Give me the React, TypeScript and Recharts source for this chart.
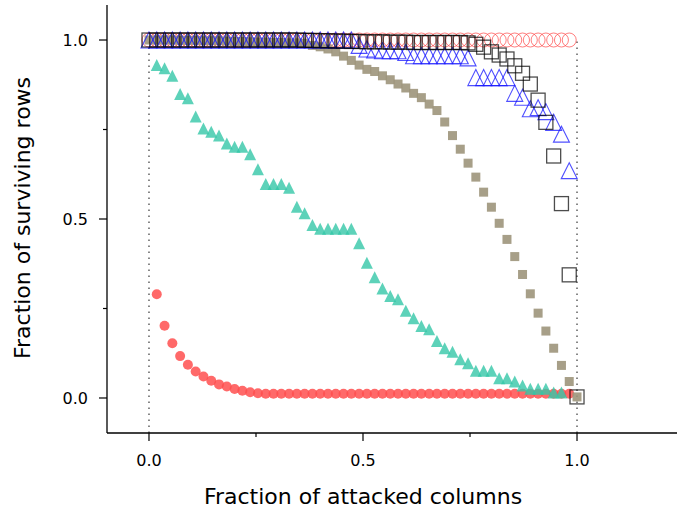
import React from "react";
import { ScatterChart, Scatter, XAxis, YAxis, ReferenceLine } from "recharts";

const FONT = "'DejaVu Sans', sans-serif";

// x grid: fraction of attacked columns, 55 columns in total
const COLUMN_COUNT = 55;
const attacked = Array.from({ length: COLUMN_COUNT + 1 }, (_, k) => k / COLUMN_COUNT);

const X_MIN = -0.0981;
const X_MAX = 1.2336;
const Y_MIN = -0.0978;
const Y_MAX = 1.0978;

const X_TICKS = [0, 0.25, 0.5, 0.75, 1];
const Y_TICKS = [0, 0.25, 0.5, 0.75, 1];
const MAJOR_TICKS = [0, 0.5, 1];

// series values, each starts at a column index
const redOpenStart = 0;
const redOpen = [
  1, 1, 1, 1, 1, 1, 1, 1, 1, 1, 1,
  1, 1, 1, 1, 1, 1, 1, 1, 1, 1, 1,
  1, 1, 1, 1, 1, 1, 1, 1, 1, 1, 1,
  1, 1, 1, 1, 1, 1, 1, 1, 1, 1, 1,
  1, 1, 1, 1, 1, 1, 1, 1, 1, 1, 1,
];

const redDotStart = 1;
const redDot = [
  0.29, 0.202, 0.153, 0.117, 0.093, 0.074, 0.06, 0.048, 0.038, 0.032,
  0.025, 0.02, 0.016, 0.013, 0.012, 0.012, 0.012, 0.012, 0.012, 0.012,
  0.012, 0.012, 0.012, 0.012, 0.012, 0.012, 0.012, 0.012, 0.012, 0.012,
  0.012, 0.012, 0.012, 0.012, 0.012, 0.012, 0.012, 0.012, 0.012, 0.012,
  0.012, 0.012, 0.012, 0.012, 0.012, 0.012, 0.012, 0.012, 0.012, 0.012,
  0.012, 0.012, 0.012, 0.012,
];

const tealStart = 1;
const teal = [
  0.93, 0.921, 0.9, 0.849, 0.837, 0.786, 0.753, 0.744, 0.733, 0.711,
  0.702, 0.702, 0.681, 0.639, 0.598, 0.598, 0.598, 0.587, 0.534, 0.516,
  0.483, 0.473, 0.473, 0.473, 0.473, 0.473, 0.432, 0.378, 0.337, 0.306,
  0.285, 0.276, 0.244, 0.223, 0.201, 0.192, 0.159, 0.139, 0.129, 0.108,
  0.097, 0.076, 0.076, 0.076, 0.055, 0.055, 0.046, 0.035, 0.026, 0.026,
  0.026, 0.015, 0.015,
];

const grayStart = 0;
const gray = [
  1, 1, 1, 1, 0.999, 0.999, 0.999, 0.998, 0.998, 0.998,
  0.997, 0.996, 0.996, 0.995, 0.994, 0.994, 0.993, 0.993, 0.992, 0.992,
  0.991, 0.985, 0.981, 0.975, 0.967, 0.955, 0.943, 0.93, 0.918, 0.912,
  0.9, 0.889, 0.877, 0.866, 0.851, 0.839, 0.821, 0.803, 0.771, 0.733,
  0.695, 0.656, 0.617, 0.575, 0.533, 0.488, 0.443, 0.395, 0.345, 0.291,
  0.237, 0.187, 0.139, 0.091, 0.046, 0.003,
];

const blueStart = 0;
const blue = [
  1, 1, 1, 1, 1, 1, 1, 1, 1, 1,
  1, 1, 1, 1, 1, 1, 1, 1, 1, 1,
  1, 1, 1, 1, 1, 1, 1, 0.985, 0.975, 0.972,
  0.97, 0.97, 0.97, 0.965, 0.956, 0.956, 0.956, 0.956, 0.956, 0.956,
  0.956, 0.95, 0.895, 0.895, 0.895, 0.895, 0.895, 0.851, 0.84, 0.808,
  0.811, 0.8, 0.77, 0.737, 0.635,
];

const blackStart = 0;
const black = [
  1, 1, 1, 1, 1, 1, 1, 1, 1, 1,
  1, 1, 1, 1, 1, 1, 1, 1, 1, 1,
  0.999, 0.999, 0.998, 0.998, 0.997, 0.997, 0.996, 0.996, 0.995, 0.995,
  0.995, 0.994, 0.994, 0.994, 0.993, 0.993, 0.993, 0.993, 0.993, 0.993,
  0.993, 0.992, 0.988, 0.98, 0.967, 0.958, 0.947, 0.928, 0.907, 0.877,
  0.832, 0.77, 0.676, 0.543, 0.344, 0.003,
];

const toPoints = (start: number, values: number[]) =>
  values.map((y, i) => ({ x: attacked[start + i], y }));

// marker shapes
const OpenCircle = ({ cx, cy }: any) => (
  <circle cx={cx} cy={cy} r={7} fill="none" stroke="#ff2a2a" strokeOpacity={0.6} strokeWidth={1} />
);
const Dot = ({ cx, cy }: any) => (
  <circle cx={cx} cy={cy} r={5} fill="#ff4f4f" fillOpacity={0.85} />
);
const triPath = (cx: number, cy: number, h: number) =>
  `M${cx},${cy - h / 2} L${cx - h / 2},${cy + h / 2} L${cx + h / 2},${cy + h / 2} Z`;
const FilledTriangle = ({ cx, cy }: any) => (
  <path d={triPath(cx, cy, 12)} fill="#34c7a8" fillOpacity={0.8} />
);
const OpenTriangle = ({ cx, cy }: any) => (
  <path d={triPath(cx, cy, 16)} fill="none" stroke="#1414ff" strokeOpacity={0.75} strokeWidth={1.1} />
);
const FilledSquare = ({ cx, cy }: any) => (
  <rect x={cx - 4.5} y={cy - 4.5} width={9} height={9} fill="#9d957b" fillOpacity={0.9} />
);
const OpenSquare = ({ cx, cy }: any) => (
  <rect x={cx - 7} y={cy - 7} width={14} height={14} fill="none" stroke="#000" strokeOpacity={0.7} strokeWidth={1.3} />
);

const XTick = ({ x, y, payload }: any) => {
  const major = MAJOR_TICKS.includes(payload.value);
  return (
    <g>
      <line x1={x} x2={x} y1={y} y2={y + (major ? 8 : 4)} stroke="#000" strokeWidth={1.2} />
      {major && (
        <text x={x} y={y + 33} textAnchor="middle" fontSize={16} fontFamily={FONT} fill="#000">
          {payload.value.toFixed(1)}
        </text>
      )}
    </g>
  );
};

const YTick = ({ x, y, payload }: any) => {
  const major = MAJOR_TICKS.includes(payload.value);
  return (
    <g>
      <line x1={x} x2={x - (major ? 8 : 4)} y1={y} y2={y} stroke="#000" strokeWidth={1.2} />
      {major && (
        <text x={x - 19} y={y + 6} textAnchor="end" fontSize={16} fontFamily={FONT} fill="#000">
          {payload.value.toFixed(1)}
        </text>
      )}
    </g>
  );
};

export default function App() {
  return (
    <div style={{ position: "fixed", left: 0, top: 0, width: 677, height: 511, background: "#fff" }}>
      <ScatterChart width={677} height={511} margin={{ top: 5, right: 0, bottom: 48, left: 0 }}>
        <XAxis
          type="number"
          dataKey="x"
          domain={[X_MIN, X_MAX]}
          ticks={X_TICKS}
          interval={0}
          allowDataOverflow
          height={30}
          tickSize={0}
          tickMargin={0}
          tickLine={false}
          tick={<XTick />}
          axisLine={{ stroke: "#000", strokeWidth: 1.3 }}
        />
        <YAxis
          type="number"
          dataKey="y"
          domain={[Y_MIN, Y_MAX]}
          ticks={Y_TICKS}
          interval={0}
          allowDataOverflow
          width={107}
          tickSize={0}
          tickMargin={0}
          tickLine={false}
          tick={<YTick />}
          axisLine={{ stroke: "#000", strokeWidth: 1.3 }}
        />
        <ReferenceLine
          segment={[{ x: 0, y: Y_MIN }, { x: 0, y: 1 }]}
          stroke="#555"
          strokeWidth={1.4}
          strokeDasharray="1.4 4.6"
        />
        <ReferenceLine
          segment={[{ x: 1, y: Y_MIN }, { x: 1, y: 1 }]}
          stroke="#555"
          strokeWidth={1.4}
          strokeDasharray="1.4 4.6"
        />
        <Scatter data={toPoints(redOpenStart, redOpen)} shape={OpenCircle} isAnimationActive={false} />
        <Scatter data={toPoints(redDotStart, redDot)} shape={Dot} isAnimationActive={false} />
        <Scatter data={toPoints(tealStart, teal)} shape={FilledTriangle} isAnimationActive={false} />
        <Scatter data={toPoints(grayStart, gray)} shape={FilledSquare} isAnimationActive={false} />
        <Scatter data={toPoints(blueStart, blue)} shape={OpenTriangle} isAnimationActive={false} />
        <Scatter data={toPoints(blackStart, black)} shape={OpenSquare} isAnimationActive={false} />
      </ScatterChart>
      <svg width={677} height={511} style={{ position: "absolute", left: 0, top: 0, pointerEvents: "none" }}>
        <text x={363} y={504} textAnchor="middle" fontSize={22} fontFamily={FONT} fill="#000">
          Fraction of attacked columns
        </text>
        <text transform="translate(30, 218) rotate(-90)" textAnchor="middle" fontSize={22} fontFamily={FONT} fill="#000">
          Fraction of surviving rows
        </text>
      </svg>
    </div>
  );
}
